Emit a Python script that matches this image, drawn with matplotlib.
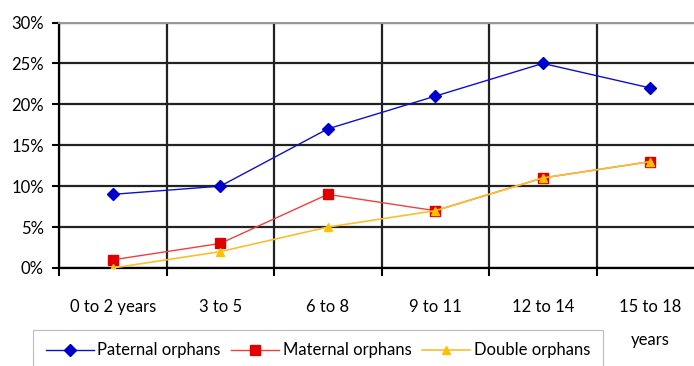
import matplotlib
matplotlib.use("Agg")
import matplotlib.pyplot as plt
from matplotlib.ticker import FixedLocator, PercentFormatter

plt.rcParams['font.family'] = ['Lato', 'DejaVu Sans']

categories = ["0 to 2 years", "3 to 5", "6 to 8", "9 to 11", "12 to 14", "15 to 18\nyears"]
paternal = [9, 10, 17, 21, 25, 22]
maternal = [1, 3, 9, 7, 11, 13]
double = [0, 2, 5, 7, 11, 13]
y_ticks = [0, 5, 10, 15, 20, 25, 30]

W, H = 694, 366
fig = plt.figure(figsize=(W / 100, H / 100), dpi=100)
left, right, top, bottom = 59, 704, 22.5, 268
ax = fig.add_axes([left / W, 1 - bottom / H, (right - left) / W, (bottom - top) / H])

x = list(range(len(categories)))
ax.plot(x, paternal, color="#1010c8", lw=1.0, marker="D", ms=6,
        mfc="#0000cc", mec="#0000cc", label="Paternal orphans", zorder=4)
ax.plot(x, maternal, color="#f04040", lw=1.0, marker="s", ms=7,
        mfc="#e00000", mec="#e00000", label="Maternal orphans", zorder=4)
ax.plot(x, double, color="#f8c030", lw=1.2, marker="^", ms=6,
        mfc="#ffc000", mec="#ffc000", label="Double orphans", zorder=5)

ax.set_xlim(-0.5, len(categories) - 0.5)
ax.set_ylim(0, 30)
ax.set_xticks(x)
ax.set_xticklabels(categories, fontsize=12, linespacing=2.35, va="top")
ax.xaxis.set_minor_locator(FixedLocator([i + 0.5 for i in range(-1, len(categories))]))
ax.tick_params(axis="x", which="major", length=0, pad=22)
ax.tick_params(axis="x", which="minor", length=6, width=1.5, color="black", direction="out")
ax.set_yticks(y_ticks)
ax.yaxis.set_major_formatter(PercentFormatter(decimals=0))
ax.tick_params(axis="y", length=5, width=1.5, color="black", labelsize=12, pad=6)

ax.grid(True, axis="y", which="major", color="#222222", lw=1.6)
ax.grid(True, axis="x", which="minor", color="#222222", lw=1.6)
ax.set_axisbelow(True)
ax.spines["right"].set_visible(False)
ax.spines["top"].set_color("#999999")
ax.spines["top"].set_linewidth(1.4)
ax.spines["left"].set_linewidth(1.6)
ax.spines["bottom"].set_linewidth(1.6)

leg = fig.legend(loc="upper left", bbox_to_anchor=(33 / W, 1 - 330 / H), ncol=3,
                 fontsize=12, frameon=True, fancybox=False, edgecolor="#aaaaaa",
                 handlelength=2.9, handletextpad=0.2, columnspacing=0.63,
                 borderpad=0.75, borderaxespad=0)
leg.get_frame().set_linewidth(0.8)

fig.savefig("out.png", dpi=100, facecolor="white")
